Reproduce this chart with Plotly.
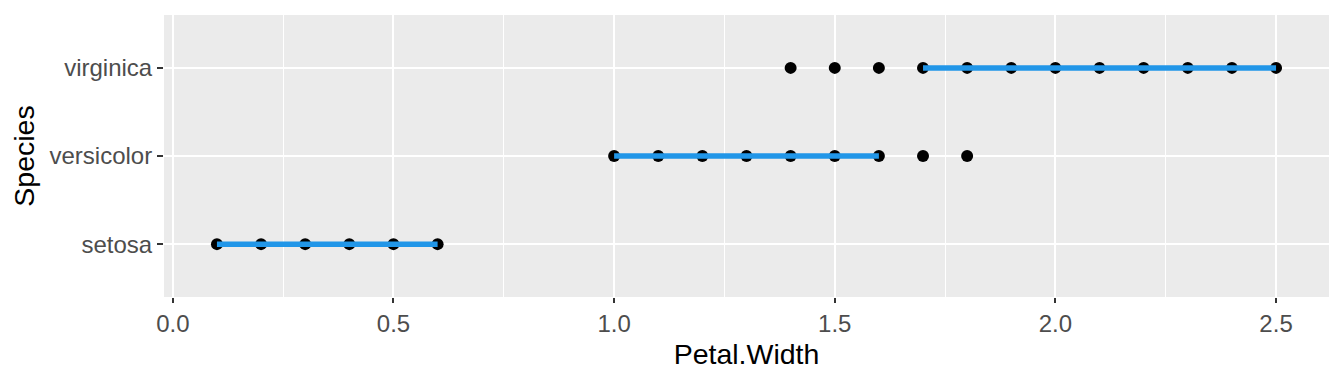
import plotly.graph_objects as go

species = ["setosa", "versicolor", "virginica"]
# unique Petal.Width values observed per species (points)
point_values = {
    "setosa": [0.1, 0.2, 0.3, 0.4, 0.5, 0.6],
    "versicolor": [1.0, 1.1, 1.2, 1.3, 1.4, 1.5, 1.6, 1.7, 1.8],
    "virginica": [1.4, 1.5, 1.6, 1.7, 1.8, 1.9, 2.0, 2.1, 2.2, 2.3, 2.4, 2.5],
}
# segment (range) per species
seg_start = [0.1, 1.0, 1.7]
seg_end = [0.6, 1.6, 2.5]

x_ticks = [0.0, 0.5, 1.0, 1.5, 2.0, 2.5]
x_ticktext = ["0.0", "0.5", "1.0", "1.5", "2.0", "2.5"]

fig = go.Figure()

px_, py_ = [], []
for i, s in enumerate(species):
    for v in point_values[s]:
        px_.append(v)
        py_.append(i + 1)
fig.add_trace(go.Scatter(x=px_, y=py_, mode="markers",
                         marker=dict(color="black", size=12),
                         showlegend=False, hoverinfo="skip"))

for i, s in enumerate(species):
    fig.add_trace(go.Scatter(x=[seg_start[i], seg_end[i]], y=[i + 1, i + 1],
                             mode="lines", line=dict(color="#2196E8", width=5.5),
                             showlegend=False, hoverinfo="skip"))

fig.update_layout(
    width=1328, height=368,
    margin=dict(l=156, r=7, t=7, b=79),
    paper_bgcolor="white", plot_bgcolor="#EBEBEB",
    font=dict(family="Liberation Sans, Arial, sans-serif"),
)
fig.update_xaxes(
    range=[-0.02, 2.62], tickvals=x_ticks, ticktext=x_ticktext,
    showgrid=True, gridcolor="white", gridwidth=2,
    minor=dict(tickvals=[0.25, 0.75, 1.25, 1.75, 2.25], showgrid=True,
               gridcolor="white", gridwidth=1, ticks=""),
    zeroline=False, showline=False,
    ticks="outside", ticklen=5, tickwidth=2, tickcolor="#333333",
    tickfont=dict(size=24, color="#4D4D4D"),
    title=dict(text="Petal.Width", font=dict(size=28.5, color="black"), standoff=8),
)
fig.update_yaxes(
    range=[0.4, 3.6], tickvals=[1, 2, 3], ticktext=species,
    showgrid=True, gridcolor="white", gridwidth=2,
    zeroline=False, showline=False,
    ticks="outside", ticklen=6, tickwidth=2, tickcolor="#333333",
    tickfont=dict(size=24, color="#4D4D4D"),
    title=dict(text="Species", font=dict(size=28.5, color="black"), standoff=10),
)

fig.write_html("out.html")
